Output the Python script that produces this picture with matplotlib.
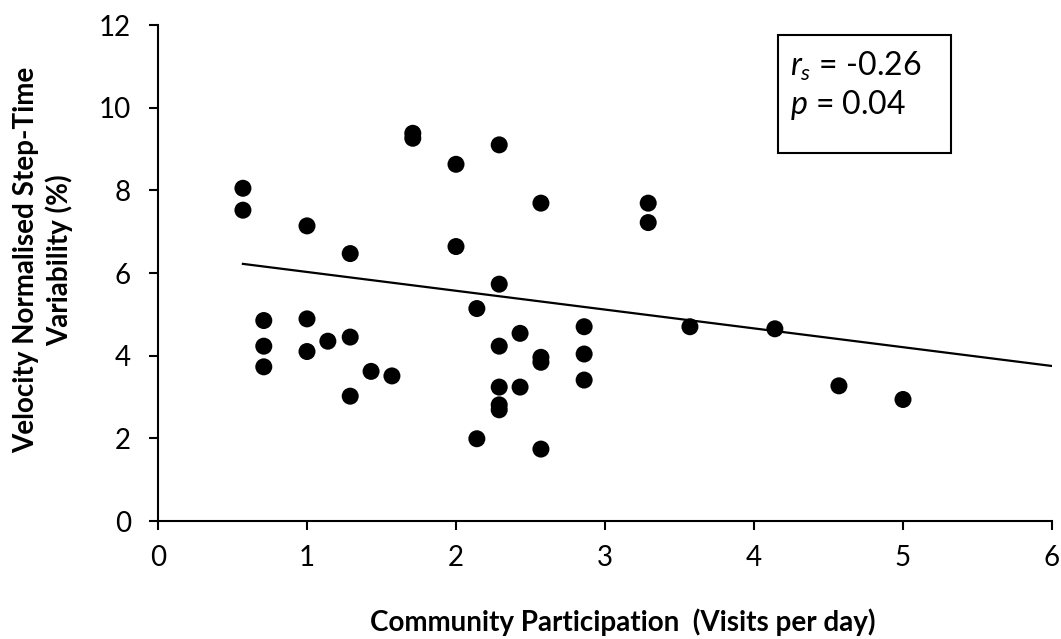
import numpy as np
import matplotlib
matplotlib.use("Agg")
import matplotlib.pyplot as plt

plt.rcParams['font.family'] = ['Lato', 'DejaVu Sans']
plt.rcParams['mathtext.fontset'] = 'custom'
plt.rcParams['mathtext.it'] = 'Lato:italic'
plt.rcParams['mathtext.rm'] = 'Lato'

# Community participation (visits per day) and step-time variability (%)
visits_per_day = [0.57, 0.57, 0.71, 0.71, 0.71, 1.00, 1.00, 1.00, 1.14, 1.29,
                  1.29, 1.29, 1.43, 1.57, 1.71, 1.71, 2.00, 2.00, 2.14, 2.14,
                  2.29, 2.29, 2.29, 2.29, 2.29, 2.29, 2.43, 2.43, 2.57, 2.57,
                  2.57, 2.57, 2.86, 2.86, 2.86, 3.29, 3.29, 3.57, 4.14, 4.57,
                  5.00]
variability = [8.05, 7.52, 4.85, 4.23, 3.73, 7.14, 4.89, 4.10, 4.35, 6.47,
               4.45, 3.02, 3.62, 3.51, 9.38, 9.26, 8.63, 6.64, 5.14, 1.99,
               9.10, 5.73, 4.23, 3.24, 2.81, 2.69, 4.54, 3.24, 7.69, 3.96,
               3.84, 1.74, 4.70, 4.04, 3.41, 7.69, 7.22, 4.70, 4.65, 3.27,
               2.94]
# Linear trend: variability = slope * visits + intercept
trend_slope = -0.455
trend_intercept = 6.48
trend_x_end = 6.0

x_ticks = [0, 1, 2, 3, 4, 5, 6]
y_ticks = [0, 2, 4, 6, 8, 10, 12]
stats_text = "$r_s$ = -0.26\n$p$ = 0.04"

x = np.array(visits_per_day)
y = np.array(variability)

fig = plt.figure(figsize=(10.61, 6.39), dpi=100)
ax = fig.add_axes([158 / 1061, 1 - 521 / 639, (1052 - 158) / 1061, (521 - 25) / 639])

ax.scatter(x, y, s=150, color='black', edgecolors='none', zorder=3)

xt = np.array([x.min(), trend_x_end])
ax.plot(xt, trend_slope * xt + trend_intercept, color='black', lw=1.6, zorder=2)

ax.set_xlim(0, 6)
ax.set_ylim(0, 12)
ax.set_xticks(x_ticks)
ax.set_yticks(y_ticks)
ax.tick_params(axis='both', direction='out', length=6.5, width=1.5,
               labelsize=20, colors='black')
ax.tick_params(axis='x', pad=11)
ax.tick_params(axis='y', pad=13)
for side in ['top', 'right']:
    ax.spines[side].set_visible(False)
for side in ['left', 'bottom']:
    ax.spines[side].set_linewidth(1.5)

fig.text(623 / 1061, 1 - 622 / 639, "Community Participation  (Visits per day)",
         ha='center', va='center', fontsize=20, fontweight='bold')
fig.text(43 / 1061, 1 - 260 / 639, "Velocity Normalised Step-Time\nVariability (%)",
         ha='center', va='center', rotation=90, fontsize=20, fontweight='bold',
         multialignment='center', linespacing=1.3)

# Statistics box
fig.patches.append(plt.Rectangle((778 / 1061, 1 - 153 / 639), (951 - 778) / 1061,
                                 (153 - 35) / 639, transform=fig.transFigure,
                                 fill=False, edgecolor='black', lw=1.5))
fig.text(790 / 1061, 1 - 86 / 639, stats_text, ha='left', va='center',
         fontsize=23, linespacing=1.2)

fig.savefig("out.png", dpi=100, facecolor='white')
